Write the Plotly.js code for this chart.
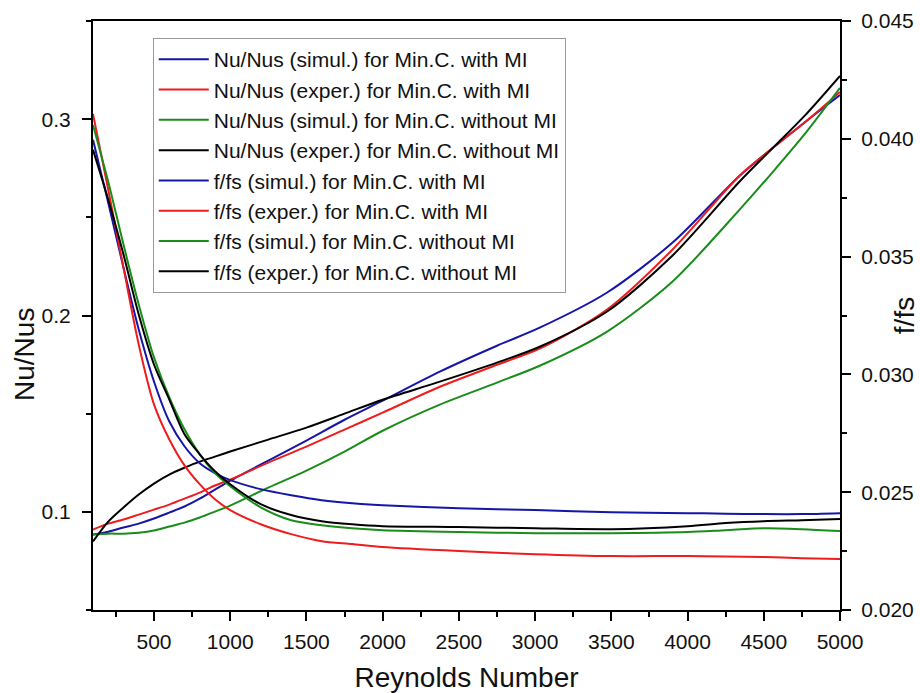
<!DOCTYPE html>
<html><head><meta charset="utf-8">
<script src="https://cdn.plot.ly/plotly-3.0.1.min.js"></script>
<style>html,body{margin:0;padding:0;background:#fff}</style>
</head><body><div id="chart" style="width:920px;height:693px"></div>
<script>
// Reynolds numbers
const reUp = [100,200,300,400,500,600,700,800,900,1000,1250,1500,1750,2000,2375,2750,3030,3470,3900,4340,4560,4780,5000];
const reDown = [100,200,300,400,500,600,700,800,900,1000,1200,1400,1600,1800,2000,2500,3000,3500,4000,4250,4500,4750,5000];

// Nu/Nus (left axis)
const nuSimWith    = [0.0884,0.0899,0.0920,0.0940,0.0966,0.0996,0.1027,0.1067,0.1113,0.1159,0.1261,0.1363,0.1469,0.1566,0.1714,0.1846,0.1938,0.2116,0.2370,0.2711,0.2854,0.2991,0.3123];
const nuExpWith    = [0.0910,0.0940,0.0961,0.0986,0.1011,0.1037,0.1067,0.1098,0.1134,0.1164,0.1251,0.1332,0.1419,0.1505,0.1637,0.1749,0.1831,0.2029,0.2335,0.2711,0.2854,0.2991,0.3139];
const nuSimWithout = [0.0884,0.0889,0.0889,0.0894,0.0905,0.0925,0.0945,0.0971,0.1001,0.1032,0.1123,0.1210,0.1307,0.1413,0.1546,0.1658,0.1744,0.1917,0.2172,0.2538,0.2732,0.2935,0.3159];
const nuExpWithout = [0.0849,0.0950,0.1022,0.1088,0.1144,0.1190,0.1225,0.1256,0.1281,0.1307,0.1368,0.1429,0.1500,0.1571,0.1663,0.1760,0.1841,0.2019,0.2304,0.2681,0.2854,0.3027,0.3220];

// f/fs (right axis)
const fSimWith    = [0.03996,0.03729,0.03453,0.03191,0.02970,0.02801,0.02695,0.02623,0.02581,0.02551,0.02513,0.02487,0.02466,0.02453,0.02445,0.02432,0.02424,0.02415,0.02411,0.02409,0.02407,0.02407,0.02411];
const fExpWith    = [0.04106,0.03784,0.03453,0.03127,0.02873,0.02725,0.02614,0.02534,0.02470,0.02424,0.02364,0.02322,0.02292,0.02280,0.02267,0.02250,0.02237,0.02229,0.02229,0.02227,0.02225,0.02220,0.02216];
const fSimWithout = [0.04059,0.03818,0.03551,0.03297,0.03072,0.02903,0.02767,0.02661,0.02581,0.02525,0.02436,0.02381,0.02360,0.02347,0.02339,0.02331,0.02326,0.02326,0.02331,0.02339,0.02347,0.02343,0.02335];
const fExpWithout = [0.03953,0.03742,0.03509,0.03254,0.03042,0.02894,0.02746,0.02661,0.02589,0.02534,0.02449,0.02403,0.02377,0.02364,0.02356,0.02352,0.02347,0.02343,0.02356,0.02369,0.02377,0.02381,0.02386];

const names = [
  'Nu/Nus (simul.) for Min.C. with MI',
  'Nu/Nus (exper.) for Min.C. with MI',
  'Nu/Nus (simul.) for Min.C. without MI',
  'Nu/Nus (exper.) for Min.C. without MI',
  'f/fs (simul.) for Min.C. with MI',
  'f/fs (exper.) for Min.C. with MI',
  'f/fs (simul.) for Min.C. without MI',
  'f/fs (exper.) for Min.C. without MI'
];
const colors = ['#1515a8','#ee1c1c','#1a8c1a','#000000'];

function tr(x, y, name, color, axis) {
  return {x: x, y: y, name: name, type: 'scatter', mode: 'lines', yaxis: axis,
    line: {color: color, width: 2, shape: 'spline', smoothing: 0.8}};
}
const data = [
  tr(reUp, nuSimWith, names[0], colors[0], 'y'),
  tr(reUp, nuExpWith, names[1], colors[1], 'y'),
  tr(reUp, nuSimWithout, names[2], colors[2], 'y'),
  tr(reUp, nuExpWithout, names[3], colors[3], 'y'),
  tr(reDown, fSimWith, names[4], colors[0], 'y2'),
  tr(reDown, fExpWith, names[5], colors[1], 'y2'),
  tr(reDown, fSimWithout, names[6], colors[2], 'y2'),
  tr(reDown, fExpWithout, names[7], colors[3], 'y2')
];

const FONT = 'Liberation Sans, Arial, sans-serif';
const layout = {
  width: 920, height: 693,
  margin: {l: 93, r: 80, t: 21, b: 83},
  paper_bgcolor: '#fff', plot_bgcolor: '#fff',
  font: {family: FONT, size: 21, color: '#111'},
  showlegend: true,
  legend: {x: 0.08, y: 0.971, xanchor: 'left', yanchor: 'top',
    bgcolor: 'rgba(255,255,255,1)', bordercolor: '#999', borderwidth: 1,
    font: {family: FONT, size: 21, color: '#111'}, itemwidth: 50, tracegroupgap: 0},
  xaxis: {
    range: [100, 5000], tickmode: 'array',
    tickvals: [500,1000,1500,2000,2500,3000,3500,4000,4500,5000],
    showgrid: false, zeroline: false,
    showline: true, linecolor: '#000', linewidth: 2, mirror: true,
    ticks: 'outside', ticklen: 9, tickwidth: 2, tickcolor: '#000', ticklabelstandoff: 3,
    minor: {dtick: 250, tick0: 0, ticks: 'outside', ticklen: 5, tickwidth: 2, tickcolor: '#000', showgrid: false},
    tickfont: {family: FONT, size: 21, color: '#111'},
    title: {text: 'Reynolds Number', font: {family: FONT, size: 28, color: '#111'}, standoff: 16}
  },
  yaxis: {
    range: [0.05, 0.35], dtick: 0.1, tick0: 0, tickformat: '.1f',
    showgrid: false, zeroline: false,
    showline: true, linecolor: '#000', linewidth: 2,
    ticks: 'outside', ticklen: 9, tickwidth: 2, tickcolor: '#000', ticklabelstandoff: 7,
    minor: {dtick: 0.05, tick0: 0, ticks: 'outside', ticklen: 5, tickwidth: 2, tickcolor: '#000', showgrid: false},
    tickfont: {family: FONT, size: 21, color: '#111'},
    title: {text: ''}
  },
  yaxis2: {
    overlaying: 'y', side: 'right',
    range: [0.020, 0.045], dtick: 0.005, tick0: 0, tickformat: '.3f',
    showgrid: false, zeroline: false,
    showline: true, linecolor: '#000', linewidth: 2,
    ticks: 'outside', ticklen: 9, tickwidth: 2, tickcolor: '#000', ticklabelstandoff: 6,
    minor: {dtick: 0.0025, tick0: 0, ticks: 'outside', ticklen: 5, tickwidth: 2, tickcolor: '#000', showgrid: false},
    tickfont: {family: FONT, size: 21, color: '#111'},
    title: {text: 'f/fs', font: {family: FONT, size: 28, color: '#111'}, standoff: 8}
  },
  annotations: [{
    text: 'Nu/Nus', xref: 'paper', yref: 'paper', x: -0.091, y: 0.433,
    xanchor: 'center', yanchor: 'middle', textangle: -90, showarrow: false,
    font: {family: FONT, size: 28, color: '#111'}
  }]
};
Plotly.newPlot('chart', data, layout, {displayModeBar: false, staticPlot: true});
</script>
</body></html>
